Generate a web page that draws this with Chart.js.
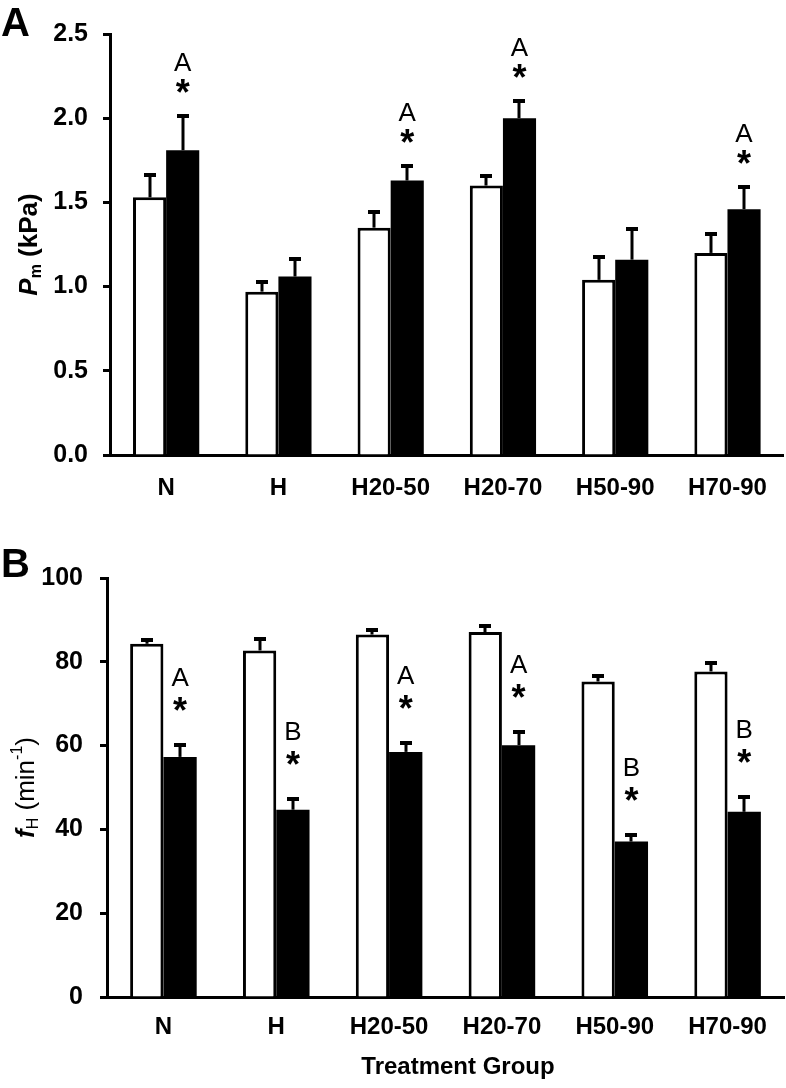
<!DOCTYPE html>
<html lang="en">
<head>
<meta charset="UTF-8">
<title>Pm and fH by treatment group</title>
<style>
  body { margin: 0; background: #fff; }
  canvas { display: block; }
</style>
</head>
<body>
<canvas id="chart-pm" width="786" height="520"></canvas>
<canvas id="chart-fh" width="786" height="568"></canvas>

<script src="https://cdn.jsdelivr.net/npm/chart.js"></script>
<script>
// x categories, shared by both panels
const groups = ['N', 'H', 'H20-50', 'H20-70', 'H50-90', 'H70-90'];

// panel A: Pm (kPa)
const pmTicks = [0, 0.5, 1.0, 1.5, 2.0, 2.5];
const pmWhite = [1.53, 0.97, 1.35, 1.60, 1.04, 1.20];
const pmWhiteErr = [0.14, 0.065, 0.10, 0.065, 0.14, 0.12];
const pmBlack = [1.81, 1.06, 1.63, 2.00, 1.16, 1.46];
const pmBlackErr = [0.21, 0.11, 0.095, 0.11, 0.19, 0.14];
const pmLetters = ['A', '', 'A', 'A', '', 'A'];
const pmStars = ['*', '', '*', '*', '', '*'];

// panel B: fH (min-1)
const fhTicks = [0, 20, 40, 60, 80, 100];
const fhWhite = [84.3, 82.7, 86.5, 87.1, 75.3, 77.7];
const fhWhiteErr = [1.2, 3.0, 1.4, 1.8, 1.6, 2.2];
const fhBlack = [57.3, 44.7, 58.5, 60.1, 37.1, 44.2];
const fhBlackErr = [3.2, 2.8, 2.3, 3.5, 1.8, 3.8];
const fhLetters = ['A', 'B', 'A', 'A', 'B', 'B'];
const fhStars = ['*', '*', '*', '*', '*', '*'];

const FONT = '"Liberation Sans", Arial, Helvetica, sans-serif';

// draw one glyph with its ink box centred on (x, y)
function drawCentered(ctx, text, font, x, y) {
    ctx.font = font;
    ctx.textAlign = 'center';
    ctx.textBaseline = 'alphabetic';
    const m = ctx.measureText(text);
    ctx.fillText(text, x, y + (m.actualBoundingBoxAscent - m.actualBoundingBoxDescent) / 2);
}

// rotated axis title made of several runs (italic symbol, sub/superscripts)
function drawRotatedRuns(ctx, runs, cx, cy) {
    ctx.save();
    ctx.translate(cx, cy);
    ctx.rotate(-Math.PI / 2);
    ctx.textAlign = 'left';
    ctx.textBaseline = 'middle';
    let total = 0;
    runs.forEach(r => { ctx.font = r.font; total += ctx.measureText(r.text).width; });
    let x = -total / 2;
    runs.forEach(r => {
        ctx.font = r.font;
        ctx.fillText(r.text, x, r.dy || 0);
        x += ctx.measureText(r.text).width;
    });
    ctx.restore();
}

// error bars (upwards only), significance marks, axis title, panel letter
const extrasPlugin = {
    id: 'extras',
    afterDatasetsDraw(chart, args, opts) {
        const ctx = chart.ctx;
        const yScale = chart.scales.y;
        ctx.save();
        ctx.fillStyle = '#000';
        ctx.strokeStyle = '#000';

        opts.errors.forEach((errs, di) => {
            const values = chart.data.datasets[di].data;
            chart.getDatasetMeta(di).data.forEach((bar, i) => {
                const top = Math.round(yScale.getPixelForValue(values[i] + errs[i]));
                const x = Math.round(bar.x);
                ctx.lineWidth = 3;
                ctx.beginPath();
                ctx.moveTo(x, bar.y);
                ctx.lineTo(x, top);
                ctx.stroke();
                ctx.fillRect(x - 6, top - 1, 12, 4);
            });
        });

        const blackVals = chart.data.datasets[1].data;
        chart.getDatasetMeta(1).data.forEach((bar, i) => {
            const errTop = yScale.getPixelForValue(blackVals[i] + opts.errors[1][i]);
            if (opts.stars[i]) drawCentered(ctx, opts.stars[i], 'bold 36px ' + FONT, bar.x, errTop - opts.starGap);
            if (opts.letters[i]) drawCentered(ctx, opts.letters[i], '26px ' + FONT, bar.x, errTop - opts.letterGap);
        });
        ctx.restore();
    },
    afterDraw(chart, args, opts) {
        const ctx = chart.ctx;
        const area = chart.chartArea;
        ctx.save();
        ctx.fillStyle = '#000';
        drawRotatedRuns(ctx, opts.titleRuns, opts.titleX, (area.top + area.bottom) / 2);

        ctx.font = 'bold 40px ' + FONT;
        ctx.textAlign = 'left';
        ctx.textBaseline = 'alphabetic';
        ctx.fillText(opts.panel, 1, opts.panelBaseline);

        if (opts.xTitle) {
            ctx.font = 'bold 24px ' + FONT;
            ctx.textAlign = 'center';
            ctx.textBaseline = 'middle';
            ctx.fillText(opts.xTitle, opts.xTitleX, opts.xTitleY);
        }
        ctx.restore();
    }
};

function makePanel(id, cfg) {
    const ctx = document.getElementById(id).getContext('2d');
    return new Chart(ctx, {
        type: 'bar',
        data: {
            labels: groups,
            datasets: [
                {
                    data: cfg.white,
                    backgroundColor: '#ffffff',
                    borderColor: '#000000',
                    borderWidth: 3,
                    borderSkipped: 'bottom'
                },
                {
                    data: cfg.black,
                    backgroundColor: '#000000',
                    borderWidth: 0
                }
            ]
        },
        options: {
            responsive: false,
            animation: false,
            devicePixelRatio: 1,
            layout: { padding: { top: cfg.top, right: 2, left: 0, bottom: 0 } },
            datasets: { bar: { categoryPercentage: 0.59, barPercentage: 1.0 } },
            plugins: {
                legend: { display: false },
                tooltip: { enabled: false },
                extras: {
                    errors: [cfg.whiteErr, cfg.blackErr],
                    letters: cfg.letters,
                    stars: cfg.stars,
                    starGap: cfg.starGap,
                    letterGap: cfg.letterGap,
                    titleRuns: cfg.titleRuns,
                    titleX: cfg.titleX,
                    panel: cfg.panel,
                    panelBaseline: cfg.panelBaseline,
                    xTitle: cfg.xTitle,
                    xTitleX: 458,
                    xTitleY: 547
                }
            },
            scales: {
                x: {
                    afterFit: s => { s.height = cfg.xHeight; },
                    grid: { display: false, drawTicks: false },
                    border: { display: true, color: '#000', width: 3 },
                    ticks: {
                        color: '#000',
                        padding: cfg.xPad,
                        maxRotation: 0,
                        font: { family: FONT, size: 24, weight: 'bold' }
                    }
                },
                y: {
                    min: cfg.ticks[0],
                    max: cfg.ticks[cfg.ticks.length - 1],
                    afterFit: s => { s.width = cfg.yWidth; },
                    afterBuildTicks: s => { s.ticks = cfg.ticks.map(v => ({ value: v })); },
                    grid: {
                        drawOnChartArea: false,
                        drawTicks: true,
                        tickLength: 7,
                        tickWidth: 3,
                        tickColor: '#000'
                    },
                    border: { display: true, color: '#000', width: 3 },
                    ticks: {
                        color: '#000',
                        padding: cfg.yPad,
                        font: { family: FONT, size: 25, weight: 'bold' },
                        callback: cfg.fmt
                    }
                }
            }
        },
        plugins: [extrasPlugin]
    });
}

makePanel('chart-pm', {
    white: pmWhite, whiteErr: pmWhiteErr,
    black: pmBlack, blackErr: pmBlackErr,
    letters: pmLetters, stars: pmStars,
    ticks: pmTicks,
    fmt: v => Number(v).toFixed(1),
    top: 34, xHeight: 65, yWidth: 110, yPad: 15, xPad: 19,
    starGap: 29, letterGap: 53,
    panel: 'A', panelBaseline: 36,
    titleX: 30,
    titleRuns: [
        { text: 'P', font: 'italic bold 26px ' + FONT },
        { text: 'm', font: 'bold 16px ' + FONT, dy: 7 },
        { text: ' (kPa)', font: 'bold 26px ' + FONT }
    ]
});

makePanel('chart-fh', {
    white: fhWhite, whiteErr: fhWhiteErr,
    black: fhBlack, blackErr: fhBlackErr,
    letters: fhLetters, stars: fhStars,
    ticks: fhTicks,
    fmt: v => String(v),
    top: 58, xHeight: 91, yWidth: 107, yPad: 17, xPad: 16,
    starGap: 40, letterGap: 67,
    panel: 'B', panelBaseline: 57,
    titleX: 27,
    titleRuns: [
        { text: 'f', font: 'italic bold 26px ' + FONT },
        { text: 'H', font: '16px ' + FONT, dy: 7 },
        { text: ' (min', font: '26px ' + FONT },
        { text: '-1', font: '16px ' + FONT, dy: -9 },
        { text: ')', font: '26px ' + FONT }
    ],
    xTitle: 'Treatment Group'
});
</script>
</body>
</html>
